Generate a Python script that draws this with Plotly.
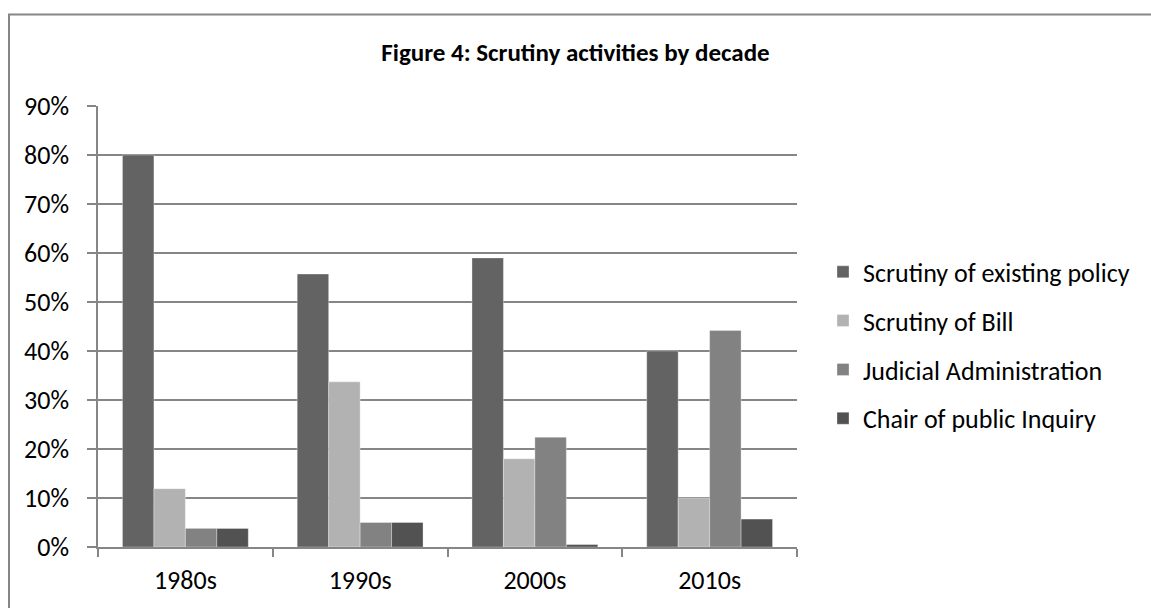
import plotly.graph_objects as go

decades = ["1980s", "1990s", "2000s", "2010s"]
existing_policy = [0.80, 0.557, 0.59, 0.40]
scrutiny_bill = [0.119, 0.337, 0.18, 0.10]
judicial_admin = [0.038, 0.050, 0.224, 0.442]
chair_inquiry = [0.038, 0.050, 0.005, 0.057]

series_names = ["Scrutiny of existing policy", "Scrutiny of Bill",
                "Judicial Administration", "Chair of public Inquiry"]
series_values = [existing_policy, scrutiny_bill, judicial_admin, chair_inquiry]
colors = ["#636363", "#b2b2b2", "#828282", "#525252"]

FONT = "Carlito, Calibri, Lato, sans-serif"

fig = go.Figure()
for i, (name, vals, col) in enumerate(zip(series_names, series_values, colors)):
    fig.add_trace(go.Bar(
        x=decades, y=vals, name=name, legendgroup=f"g{i}",
        marker=dict(color=col, line=dict(color="rgba(255,255,255,0.4)", width=0.8)),
    ))

L, R, T, B = 98, 354, 106, 59
W, H = 1151, 608
pw, ph = W - L - R, H - T - B

fig.update_layout(
    width=W, height=H,
    margin=dict(l=L, r=R, t=T, b=B),
    paper_bgcolor="white", plot_bgcolor="white",
    barmode="group", bargap=0.28, bargroupgap=0,
    font=dict(family=FONT, size=26, color="#000000"),
    title=dict(text="<b>Figure 4: Scrutiny activities by decade</b>",
               x=0.5, xanchor="center", y=1 - 52 / H, yanchor="middle",
               font=dict(family=FONT, size=25, color="#000000")),
    legend=dict(x=(823 - L) / pw, xanchor="left", y=(549 - 346.5) / ph, yanchor="middle",
                font=dict(family=FONT, size=26, color="#000000"),
                traceorder="grouped", tracegroupgap=12,
                bgcolor="rgba(0,0,0,0)"),
    xaxis=dict(showline=True, linecolor="#868686", linewidth=1.5,
               ticks="outside", ticklen=8, tickcolor="#868686", tickwidth=1.5,
               ticklabelstandoff=9,
               tickson="boundaries", showgrid=False,
               tickfont=dict(family=FONT, size=26)),
    yaxis=dict(range=[0, 0.9], dtick=0.1, tickformat=".0%",
               showline=True, linecolor="#868686", linewidth=1.5,
               ticks="outside", ticklen=9, tickcolor="#868686", tickwidth=1.5,
               ticklabelstandoff=13,
               showgrid=True, gridcolor="#868686", gridwidth=1.5,
               zeroline=False, tickfont=dict(family=FONT, size=26)),
    shapes=[dict(type="rect", xref="paper", yref="paper",
                 x0=(9 - L) / pw, x1=(1160 - L) / pw,
                 y0=(549 - 630) / ph, y1=(549 - 14) / ph,
                 line=dict(color="#868686", width=2), layer="below")],
)

fig.write_html("out.html")
